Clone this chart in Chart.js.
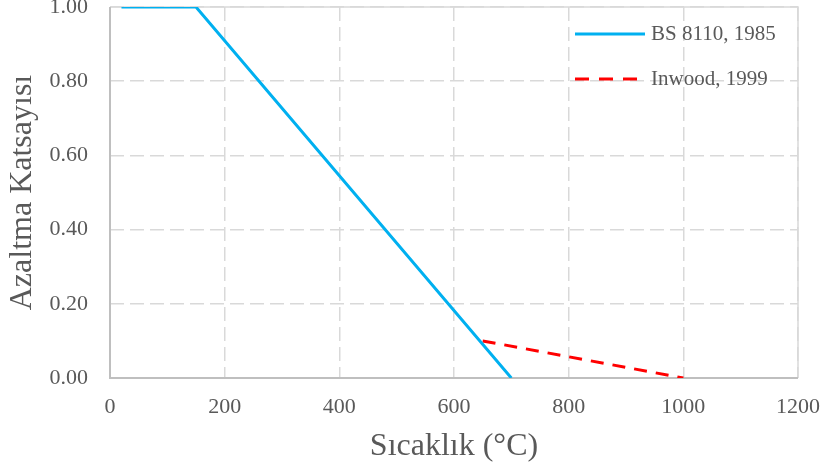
<!DOCTYPE html>
<html>
<head>
<meta charset="utf-8">
<script src="https://cdn.jsdelivr.net/npm/chart.js@4"></script>
<style>
  html, body { margin: 0; padding: 0; background: #fff; }
  #wrap { width: 825px; height: 470px; }
</style>
</head>
<body>
<div id="wrap"><canvas id="chart" width="825" height="470"></canvas></div>
<script>
// data
const bsTemp = [20, 150, 700];
const bsFactor = [1.0, 1.0, 0.0];
const inwoodTemp = [650, 1000];
const inwoodFactor = [0.1, 0.0];
const xTicks = [0, 200, 400, 600, 800, 1000, 1200];
const yTicks = [0, 0.2, 0.4, 0.6, 0.8, 1.0];

const seriesNames = ['BS 8110, 1985', 'Inwood, 1999'];
const textColor = '#595959';
const serif = "'Liberation Serif', 'Times New Roman', serif";

const toPoints = (xs, ys) => xs.map((x, i) => ({ x: x, y: ys[i] }));

// frame: light top/right border, darker left/bottom axis
const frame = {
    id: 'frame',
    beforeDatasetsDraw(chart) {
        const { ctx, chartArea: a } = chart;
        ctx.save();
        ctx.lineWidth = 1.5;
        ctx.strokeStyle = '#d9d9d9';
        ctx.beginPath();
        ctx.moveTo(a.left, a.top);
        ctx.lineTo(a.right, a.top);
        ctx.lineTo(a.right, a.bottom);
        ctx.stroke();
        ctx.strokeStyle = '#bfbfbf';
        ctx.lineWidth = 2;
        ctx.beginPath();
        ctx.moveTo(a.left, a.top);
        ctx.lineTo(a.left, a.bottom);
        ctx.lineTo(a.right, a.bottom);
        ctx.stroke();
        ctx.restore();
    }
};

// legend inside the plot, top right
const innerLegend = {
    id: 'innerLegend',
    afterDatasetsDraw(chart) {
        const { ctx } = chart;
        ctx.save();
        ctx.font = '21px ' + serif;
        ctx.textBaseline = 'middle';
        chart.data.datasets.forEach((ds, i) => {
            const y = 34 + i * 45;
            ctx.strokeStyle = ds.borderColor;
            ctx.lineWidth = 3;
            ctx.setLineDash(ds.borderDash ? [14, 10] : []);
            ctx.beginPath();
            ctx.moveTo(575, y);
            ctx.lineTo(645, y);
            ctx.stroke();
            ctx.setLineDash([]);
            ctx.fillStyle = textColor;
            ctx.fillText(ds.label, 651, y);
        });
        ctx.restore();
    }
};

new Chart(document.getElementById('chart'), {
    type: 'line',
    data: {
        datasets: [
            {
                label: seriesNames[0],
                data: toPoints(bsTemp, bsFactor),
                borderColor: '#00b0f0',
                borderWidth: 3,
                pointRadius: 0,
                tension: 0
            },
            {
                label: seriesNames[1],
                data: toPoints(inwoodTemp, inwoodFactor),
                borderColor: '#ff0000',
                borderWidth: 3,
                borderDash: [13, 9],
                pointRadius: 0,
                tension: 0
            }
        ]
    },
    options: {
        responsive: false,
        animation: false,
        layout: { padding: 0 },
        plugins: {
            legend: { display: false },
            tooltip: { enabled: false }
        },
        scales: {
            x: {
                type: 'linear',
                min: 0,
                max: 1200,
                afterBuildTicks: s => { s.ticks = xTicks.map(v => ({ value: v })); },
                ticks: { color: textColor, font: { family: serif, size: 22 }, padding: 16, callback: v => String(v) },
                grid: { color: '#d9d9d9', lineWidth: 1.5, drawTicks: false },
                border: { display: false, dash: [14, 6] },
                title: { display: true, text: 'Sıcaklık (°C)', color: textColor, font: { family: serif, size: 32 }, padding: { top: 4, bottom: 4 } },
                afterFit: s => {
                    s.height = 92;
                    s.paddingLeft = 0;
                    s.paddingRight = 27;
                }
            },
            y: {
                min: 0,
                max: 1,
                afterBuildTicks: s => { s.ticks = yTicks.map(v => ({ value: v })); },
                ticks: { color: textColor, font: { family: serif, size: 22 }, padding: 22, callback: v => v.toFixed(2) },
                grid: { color: '#d9d9d9', lineWidth: 1.5, drawTicks: false },
                border: { display: false, dash: [14, 6] },
                title: { display: true, text: 'Azaltma Katsayısı', color: textColor, font: { family: serif, size: 32 }, padding: { top: 3, bottom: 3 } },
                afterFit: s => {
                    s.width = 110;
                    s.paddingTop = 7;
                    s.paddingBottom = 0;
                }
            }
        }
    },
    plugins: [frame, innerLegend]
});
</script>
</body>
</html>
